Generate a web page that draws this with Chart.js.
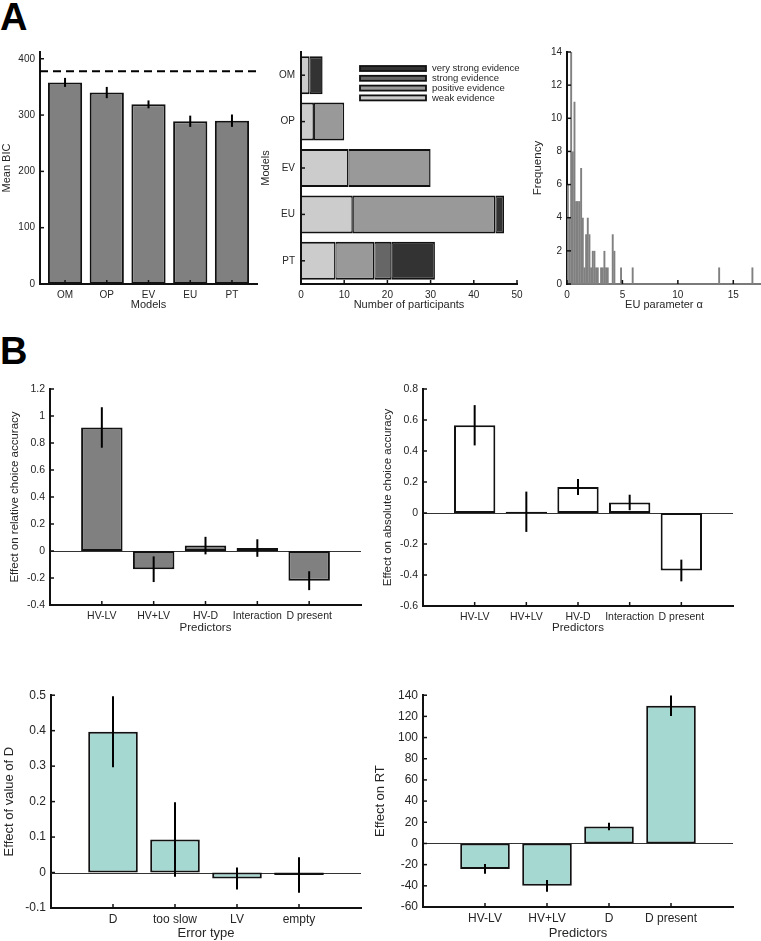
<!DOCTYPE html>
<html>
<head>
<meta charset="utf-8">
<script src="https://cdn.jsdelivr.net/npm/chart.js@4.4.0/dist/chart.umd.min.js"></script>
<style>
body { margin: 0; background: #fff; width: 761px; height: 941px; position: relative; overflow: hidden; font-family: 'Liberation Sans', Arial, sans-serif; }
canvas { position: absolute; }
.panel { position: absolute; left: 0; font-weight: bold; font-size: 38px; line-height: 38px; color: #000; }
</style>
</head>
<body>
<div class="panel" style="top:-2px">A</div>
<div class="panel" style="top:332px">B</div>
<canvas id="cBic" width="268" height="275" style="left:0;top:40px"></canvas>
<canvas id="cEvid" width="271" height="275" style="left:259px;top:40px"></canvas>
<canvas id="cHist" width="230" height="275" style="left:531px;top:40px"></canvas>
<canvas id="cRel" width="367" height="263" style="left:8px;top:377px"></canvas>
<canvas id="cAbs" width="366" height="263" style="left:381px;top:377px"></canvas>
<canvas id="cErr" width="373" height="259" style="left:2px;top:683px"></canvas>
<canvas id="cRT" width="374" height="259" style="left:373px;top:683px"></canvas>
<script>
// ---- panel A data ----
var models = ['OM', 'OP', 'EV', 'EU', 'PT'];
var meanBIC = [358, 340, 319, 289, 290];
var bicSEM = [8, 10, 7, 10, 11];
var chanceBIC = 378;

var weakEv = [2, 3, 11, 12, 8];
var positiveEv = [0, 7, 19, 33, 9];
var strongEv = [0, 0, 0, 0, 4];
var veryStrongEv = [3, 0, 0, 2, 10];

// histogram of fitted alpha (bin centres, counts)
var alphaBins = [0.075, 0.225, 0.375, 0.525, 0.675, 0.825, 0.975, 1.125, 1.275, 1.425, 1.575, 1.725, 1.875, 2.025,
  2.175, 2.325, 2.475, 2.625, 2.775, 3.075, 3.225, 3.375, 3.525, 3.675, 4.125, 4.275, 4.875, 5.925, 13.725, 16.725];
var alphaCounts = [6, 4, 14, 8, 11, 5, 5, 5, 7, 4, 1, 3, 4, 3,
  1, 2, 2, 1, 1, 1, 1, 2, 1, 1, 3, 2, 1, 1, 1, 1];

// ---- panel B data ----
var predictors = ['HV-LV', 'HV+LV', 'HV-D', 'Interaction', 'D present'];
var relEffect = [0.915, -0.135, 0.04, 0.022, -0.22];
var relSEM = [0.15, 0.095, 0.065, 0.065, 0.07];
var absEffect = [0.566, 0.008, 0.168, 0.068, -0.371];
var absSEM = [0.13, 0.13, 0.052, 0.05, 0.07];

var errorTypes = ['D', 'too slow', 'LV', 'empty'];
var dEffect = [0.397, 0.093, -0.017, -0.007];
var dSEM = [0.1, 0.105, 0.031, 0.05];

var rtPredictors = ['HV-LV', 'HV+LV', 'D', 'D present'];
var rtEffect = [-24, -40, 16, 130];
var rtSEM = [4.7, 5.5, 3.5, 9.7];

var grey = '#808080';
var teal = '#a6d8d2';

Chart.defaults.font.family = "'Liberation Sans', Arial, sans-serif";
Chart.defaults.color = '#262626';
Chart.defaults.animation = false;
Chart.defaults.plugins.legend.display = false;
Chart.defaults.plugins.tooltip.enabled = false;

// matlab style inward ticks
var tickMarks = {
  id: 'tickMarks',
  afterDatasetsDraw: function (chart) {
    var ctx = chart.ctx, a = chart.chartArea;
    ctx.save();
    ctx.strokeStyle = '#111';
    ctx.lineWidth = 1.5;
    Object.keys(chart.scales).forEach(function (k) {
      var s = chart.scales[k];
      s.ticks.forEach(function (t, i) {
        if (t.label === '' || t.label === undefined) return;
        var p = s.getPixelForTick(i);
        ctx.beginPath();
        if (s.isHorizontal()) { ctx.moveTo(p, a.bottom); ctx.lineTo(p, a.bottom - 4); }
        else { ctx.moveTo(a.left, p); ctx.lineTo(a.left + 4, p); }
        ctx.stroke();
      });
    });
    ctx.restore();
  }
};

var zeroLine = {
  id: 'zeroLine',
  beforeDatasetsDraw: function (chart) {
    var ctx = chart.ctx, a = chart.chartArea;
    var y = Math.round(chart.scales.y.getPixelForValue(0)) + 0.5;
    ctx.save();
    ctx.strokeStyle = '#333';
    ctx.lineWidth = 1;
    ctx.beginPath();
    ctx.moveTo(a.left, y);
    ctx.lineTo(a.right, y);
    ctx.stroke();
    ctx.restore();
  }
};

var errorBars = {
  id: 'errorBars',
  afterDatasetsDraw: function (chart) {
    var ctx = chart.ctx;
    ctx.save();
    ctx.strokeStyle = '#000';
    ctx.lineWidth = 2;
    chart.data.datasets.forEach(function (ds, i) {
      if (!ds.errors) return;
      var meta = chart.getDatasetMeta(i), ys = chart.scales[meta.yAxisID];
      meta.data.forEach(function (bar, j) {
        var v = ds.data[j].y, e = ds.errors[j];
        ctx.beginPath();
        ctx.moveTo(bar.x, ys.getPixelForValue(v - e));
        ctx.lineTo(bar.x, ys.getPixelForValue(v + e));
        ctx.stroke();
      });
    });
    ctx.restore();
  }
};

// legend boxes inside the plot (panel A middle)
var boxLegend = {
  id: 'boxLegend',
  afterDatasetsDraw: function (chart) {
    var ctx = chart.ctx, a = chart.chartArea;
    var items = chart.data.datasets.slice().reverse();
    ctx.save();
    ctx.font = "9.5px 'Liberation Sans', Arial, sans-serif";
    ctx.textBaseline = 'middle';
    items.forEach(function (ds, r) {
      var x = a.left + 59, y = a.top + 14 + r * 9.8;
      ctx.fillStyle = ds.backgroundColor;
      ctx.fillRect(x, y, 66, 5);
      ctx.strokeStyle = '#111';
      ctx.lineWidth = 1.8;
      ctx.strokeRect(x, y, 66, 5);
      ctx.fillStyle = '#262626';
      ctx.fillText(ds.label, a.left + 131, y + 2.5);
    });
    ctx.restore();
  }
};

function numAxis(o) {
  var ax = {
    type: 'linear', min: o.min, max: o.max, offset: false,
    afterFit: function (s) { if (o.w) s.width = o.w; else s.height = o.h; },
    grid: { display: false, drawTicks: false, offset: false },
    border: { color: o.color || '#111', width: 2 },
    ticks: {
      stepSize: o.step, includeBounds: false, autoSkip: false, maxRotation: 0,
      padding: o.pad, font: { size: o.fs },
      callback: o.labels
        ? function (v) { return Number.isInteger(v) && o.labels[v - 1] ? o.labels[v - 1] : ''; }
        : function (v) { return String(+v.toFixed(3)); }
    },
    title: { display: true, text: o.title, font: { size: o.tfs }, padding: { top: 0, bottom: o.pb || 0 } }
  };
  if (o.stacked) ax.stacked = true;
  return ax;
}

function points(vals) {
  return vals.map(function (v, i) { return { x: i + 1, y: v }; });
}

function effectChart(id, cats, vals, sem, color, ax, pad) {
  return new Chart(document.getElementById(id), {
    type: 'bar',
    data: {
      datasets: [{
        data: points(vals), errors: sem,
        backgroundColor: color, borderColor: '#111', borderWidth: 2, borderSkipped: false,
        barPercentage: 0.8, categoryPercentage: 1
      }]
    },
    options: {
      responsive: false,
      layout: { padding: pad },
      scales: {
        x: numAxis({ min: 0, max: cats.length + 1, step: 1, labels: cats, h: ax.xh, pad: ax.xpad, fs: ax.fs, title: ax.xtitle, tfs: ax.tfs, pb: ax.pb }),
        y: numAxis({ min: ax.ymin, max: ax.ymax, step: ax.ystep, w: ax.yw, pad: 5, fs: ax.fs, title: ax.ytitle, tfs: ax.tfs })
      }
    },
    plugins: [zeroLine, errorBars, tickMarks]
  });
}

// A left: mean BIC
new Chart(document.getElementById('cBic'), {
  type: 'bar',
  data: {
    datasets: [{
      data: points(meanBIC), errors: bicSEM,
      backgroundColor: grey, borderColor: '#111', borderWidth: 2, borderSkipped: false,
      barPercentage: 0.82, categoryPercentage: 1
    }, {
      type: 'line',
      data: [{ x: 0.4, y: chanceBIC }, { x: 5.6, y: chanceBIC }],
      borderColor: '#000', borderWidth: 2, borderDash: [8, 5], pointRadius: 0
    }]
  },
  options: {
    responsive: false,
    layout: { padding: { left: 0, top: 12, right: 11, bottom: 0 } },
    scales: {
      x: numAxis({ min: 0.4, max: 5.6, step: 1, labels: models, h: 31, pad: 5, fs: 10, title: 'Models', tfs: 11, pb: 3 }),
      y: numAxis({ min: 0, max: 412, step: 100, w: 40, pad: 5, fs: 10, title: 'Mean BIC', tfs: 11 })
    }
  },
  plugins: [errorBars, tickMarks]
});

// A middle: evidence counts
new Chart(document.getElementById('cEvid'), {
  type: 'bar',
  data: {
    labels: models,
    datasets: [
      { label: 'weak evidence', data: weakEv, backgroundColor: '#cccccc' },
      { label: 'positive evidence', data: positiveEv, backgroundColor: '#999999' },
      { label: 'strong evidence', data: strongEv, backgroundColor: '#666666' },
      { label: 'very strong evidence', data: veryStrongEv, backgroundColor: '#333333' }
    ]
  },
  options: {
    responsive: false,
    indexAxis: 'y',
    datasets: { bar: { borderColor: '#111', borderWidth: { top: 2, bottom: 2, left: 1, right: 1.5 }, borderSkipped: false, categoryPercentage: 0.82, barPercentage: 1 } },
    layout: { padding: { left: 0, top: 12, right: 13, bottom: 0 } },
    scales: {
      x: numAxis({ min: 0, max: 50, step: 10, h: 31, pad: 5, fs: 10, title: 'Number of participants', tfs: 11, pb: 3, stacked: true }),
      y: {
        type: 'category', stacked: true, offset: true,
        afterFit: function (s) { s.width = 42; },
        grid: { display: false, drawTicks: false },
        border: { color: '#111', width: 2 },
        ticks: { padding: 6, font: { size: 10 } },
        title: { display: true, text: 'Models', font: { size: 11 }, padding: { top: 0, bottom: 0 } }
      }
    }
  },
  plugins: [tickMarks, boxLegend]
});

// A right: histogram of EU alpha
new Chart(document.getElementById('cHist'), {
  type: 'bar',
  data: {
    datasets: [{
      data: alphaBins.map(function (b, i) { return { x: b, y: alphaCounts[i] }; }),
      backgroundColor: grey, borderColor: '#777', borderWidth: 0,
      barPercentage: 1.15, categoryPercentage: 1
    }]
  },
  options: {
    responsive: false,
    layout: { padding: { left: 0, top: 12, right: 0, bottom: 0 } },
    scales: {
      x: numAxis({ min: 0, max: 17.5, step: 5, h: 31, pad: 5, fs: 10, title: 'EU parameter \u03b1', tfs: 11, pb: 3, color: '#7a7a7a' }),
      y: numAxis({ min: 0, max: 14, step: 2, w: 36, pad: 5, fs: 10, title: 'Frequency', tfs: 11.5 })
    }
  },
  plugins: [tickMarks]
});

// B panels
effectChart('cRel', predictors, relEffect, relSEM, grey,
  { xh: 35, xpad: 5, fs: 10.5, tfs: 11.5, pb: 5, xtitle: 'Predictors', ymin: -0.4, ymax: 1.2, ystep: 0.2, yw: 42, ytitle: 'Effect on relative choice accuracy' },
  { left: 0, top: 12, right: 14, bottom: 0 });

effectChart('cAbs', predictors, absEffect, absSEM, '#ffffff',
  { xh: 34, xpad: 5, fs: 10.5, tfs: 11.5, pb: 5, xtitle: 'Predictors', ymin: -0.6, ymax: 0.8, ystep: 0.2, yw: 42, ytitle: 'Effect on absolute choice accuracy' },
  { left: 0, top: 12, right: 14, bottom: 0 });

effectChart('cErr', errorTypes, dEffect, dSEM, teal,
  { xh: 34, xpad: 4, fs: 12, tfs: 13, pb: 0.5, xtitle: 'Error type', ymin: -0.1, ymax: 0.5, ystep: 0.1, yw: 49, ytitle: 'Effect of value of D' },
  { left: 0, top: 12, right: 14, bottom: 0 });

effectChart('cRT', rtPredictors, rtEffect, rtSEM, teal,
  { xh: 35, xpad: 4, fs: 12, tfs: 13, pb: 0.5, xtitle: 'Predictors', ymin: -60, ymax: 140, ystep: 20, yw: 50, ytitle: 'Effect on RT' },
  { left: 0, top: 12, right: 14, bottom: 0 });
</script>
</body>
</html>
